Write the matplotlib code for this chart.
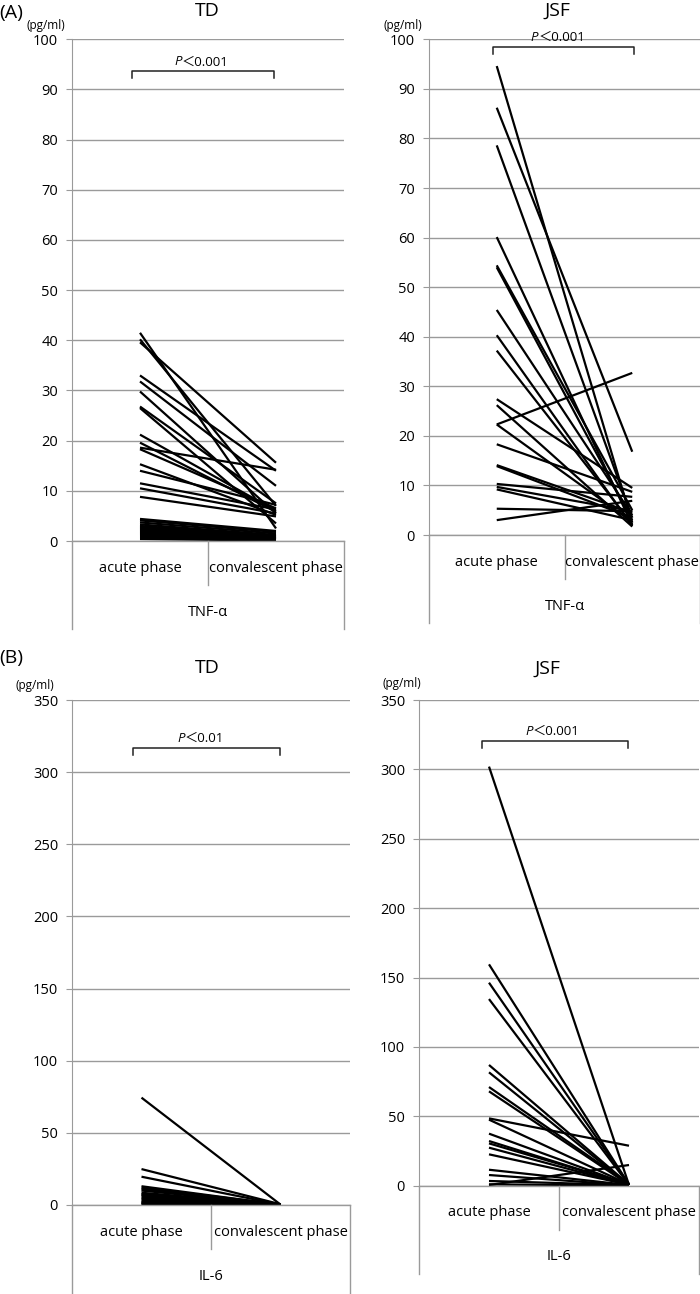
import matplotlib
matplotlib.use('Agg')
import matplotlib.pyplot as plt

plt.rcParams['font.family'] = ['Open Sans', 'Noto Sans CJK JP', 'DejaVu Sans']

W, H = 700, 1294

# ---- data ----
categories = ['acute phase', 'convalescent phase']

td_tnf_acute = [41.5, 40.2, 39.6, 33.0, 31.8, 29.8, 26.8, 26.5, 21.2, 19.6, 18.6, 18.3,
                15.3, 14.0, 11.5, 10.5, 8.8, 4.4, 4.1, 3.7, 3.3, 3.0, 2.8, 2.6, 2.4,
                2.2, 2.0, 1.8, 1.6, 1.4, 1.2, 1.0, 0.8, 0.6, 0.4]
td_tnf_conv = [2.5, 7.0, 15.6, 14.0, 11.0, 5.5, 7.5, 3.5, 6.0, 5.8, 14.2, 6.5,
               5.2, 7.2, 6.3, 5.5, 4.9, 2.0, 1.8, 1.5, 1.2, 1.0, 0.9, 0.8, 0.7,
               0.6, 0.5, 0.5, 0.4, 0.4, 0.3, 0.3, 0.2, 0.2, 0.1]

jsf_tnf_acute = [94.6, 86.2, 78.6, 60.1, 54.4, 54.0, 45.4, 40.3, 37.2, 27.4, 26.2,
                 22.3, 22.3, 18.3, 13.9, 14.1, 10.3, 9.7, 9.2, 5.3, 3.0]
jsf_tnf_conv = [2.5, 16.8, 3.5, 2.0, 5.0, 3.0, 4.0, 1.8, 2.2, 9.5, 1.7,
                32.7, 2.6, 8.7, 3.5, 4.5, 7.7, 4.8, 3.0, 4.8, 6.9]

td_il6_acute = [74.4, 24.9, 19.6, 13.0, 12.0, 11.0, 10.0, 8.5, 7.5, 7.0, 6.0, 5.0,
                4.0, 3.0, 2.0, 1.5, 1.0, 0.5]
td_il6_conv = [0.3, 0.5, 0.3, 0.2, 0.4, 0.2, 0.3, 0.2, 0.1, 0.2, 0.1, 0.2,
               0.1, 0.1, 0.2, 0.1, 0.1, 0.0]

jsf_il6_acute = [302, 159.5, 146.3, 134.5, 87, 81.7, 71.1, 68, 48.5, 47.6, 37.5,
                 32.2, 30.5, 27.4, 22.6, 11.5, 7.7, 3.4, 1.0, 0.5]
jsf_il6_conv = [0.5, 0.8, 1.0, 0.6, 0.9, 0.5, 1.2, 0.7, 28.8, 0.8, 0.6,
                0.5, 0.9, 0.4, 0.7, 0.5, 0.3, 0.4, 0.2, 14.9]

GRID = '#9a9a9a'
FS = 10.5

fig = plt.figure(figsize=(W / 100, H / 100), dpi=100)


def px_box(left, top, right, bottom):
    return [left / W, 1 - bottom / H, (right - left) / W, (bottom - top) / H]


def panel(box, ymax, step, acute, conv, group, ptext, br_y, br_x):
    ax = fig.add_axes(px_box(*box))
    hpx = box[3] - box[1]
    ax.set_xlim(-0.5, 1.5)
    ax.set_ylim(0, ymax)
    for s in ['top', 'right', 'bottom']:
        ax.spines[s].set_visible(False)
    ax.spines['left'].set_color(GRID)
    ax.set_yticks(range(0, ymax + 1, step))
    ax.tick_params(axis='y', length=4, color=GRID, labelsize=FS, pad=6)
    ax.set_xticks([])
    ax.grid(axis='y', color=GRID, linewidth=1)
    ax.set_axisbelow(True)

    for a, c in zip(acute, conv):
        ax.plot([0, 1], [a, c], color='black', linewidth=1.6, solid_capstyle='butt')

    # excel style category area below the plot
    tr = ax.get_xaxis_transform()
    ax.plot([-0.5, 1.5], [0, 0], color=GRID, lw=1, transform=tr, clip_on=False)
    for xx, depth in [(-0.5, 88), (0.5, 44), (1.5, 88)]:
        ax.plot([xx, xx], [0, -depth / hpx], color=GRID, lw=1, transform=tr, clip_on=False)
    for i, lab in enumerate(categories):
        ax.text(i, -27 / hpx, lab, transform=tr, ha='center', va='center', fontsize=FS)
    ax.text(0.5, -71 / hpx, group, transform=tr, ha='center', va='center', fontsize=FS)

    # significance bracket
    y0, y1 = br_y
    x0, x1 = br_x
    ax.plot([x0, x0, x1, x1], [y1, y0, y0, y1], color='#222222', lw=1.1, clip_on=False)
    ax.annotate('P', xy=(0.47, y0), xytext=(-22, 3), textcoords='offset pixels',
                ha='right', va='bottom', fontsize=9.5, style='italic')
    ax.annotate('＜' + ptext, xy=(0.47, y0), xytext=(-22, 3), textcoords='offset pixels',
                ha='left', va='bottom', fontsize=9.5)
    return ax


panel((72, 39.3, 344, 541), 100, 10, td_tnf_acute, td_tnf_conv, 'TNF-α', '0.001',
      (93.6, 92.2), (-0.06, 0.985))
panel((429, 39.3, 700, 535), 100, 10, jsf_tnf_acute, jsf_tnf_conv, 'TNF-α', '0.001',
      (98.4, 97.0), (-0.03, 1.015))
panel((72, 700, 350, 1205), 350, 50, td_il6_acute, td_il6_conv, 'IL-6', '0.01',
      (316.7, 311.9), (-0.058, 0.993))
panel((419, 700, 699, 1185.7), 350, 50, jsf_il6_acute, jsf_il6_conv, 'IL-6', '0.001',
      (320.4, 315.3), (-0.05, 0.99))

# titles and panel letters
def ftext(x, y, s, **kw):
    fig.text(x / W, 1 - y / H, s, **kw)

ftext(-1, 13, '(A)', fontsize=14, ha='left', va='center')
ftext(-1, 658, '(B)', fontsize=14, ha='left', va='center')
ftext(207, 11, 'TD', fontsize=14, ha='center', va='center')
ftext(557, 11, 'JSF', fontsize=14, ha='center', va='center')
ftext(207, 668, 'TD', fontsize=14, ha='center', va='center')
ftext(547, 669, 'JSF', fontsize=14, ha='center', va='center')
ftext(46, 25, '(pg/ml)', fontsize=8.5, ha='center', va='center')
ftext(403, 26, '(pg/ml)', fontsize=8.5, ha='center', va='center')
ftext(35, 686, '(pg/ml)', fontsize=8.5, ha='center', va='center')
ftext(402, 683, '(pg/ml)', fontsize=8.5, ha='center', va='center')

fig.savefig('out.png', dpi=100)
